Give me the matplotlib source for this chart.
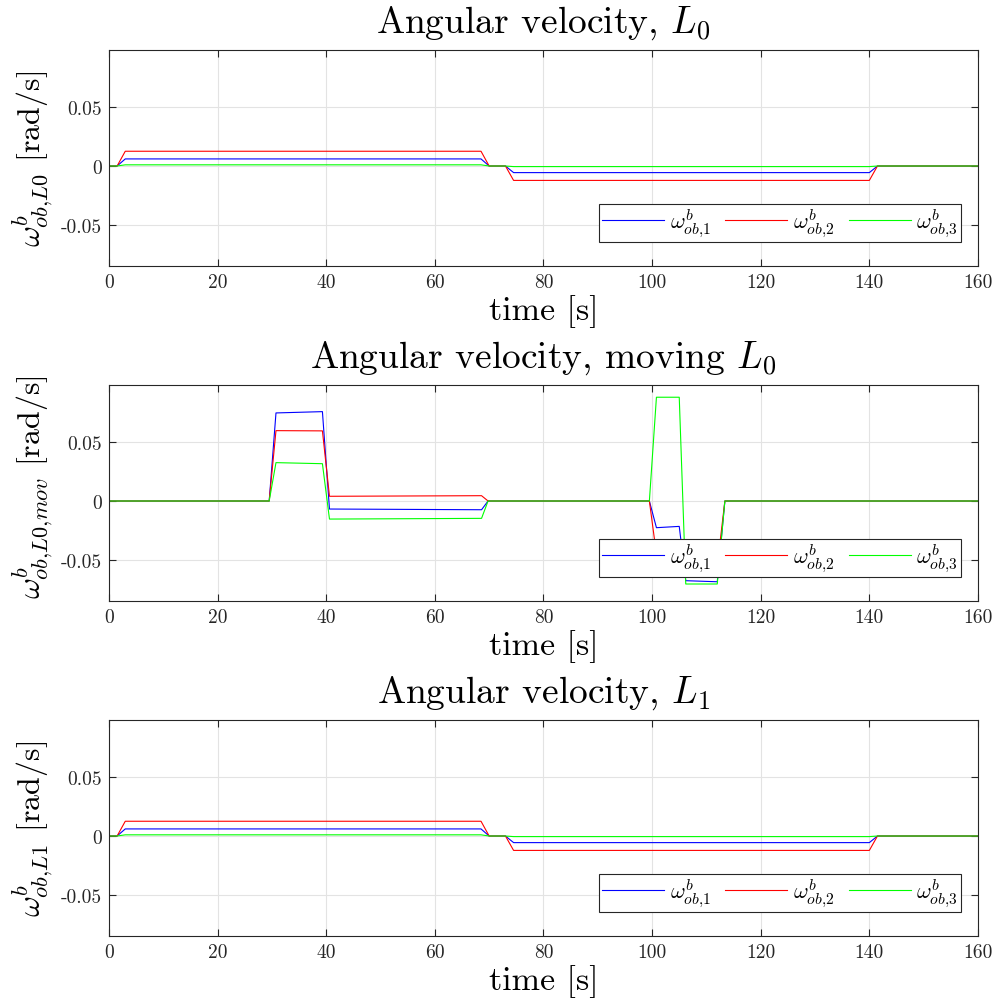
import matplotlib
matplotlib.use("Agg")
import matplotlib.pyplot as plt

plt.rcParams["font.family"] = ["cmr10", "DejaVu Serif"]
plt.rcParams["mathtext.fontset"] = "cm"
plt.rcParams["axes.unicode_minus"] = False

# Breakpoints of the piecewise-linear angular velocity profiles
t_L0 = [0, 1.5, 3.0, 68.5, 70.0, 73.0, 74.5, 140.0, 141.5, 160]
w1_L0 = [0, 0, 0.0060, 0.0060, 0, 0, -0.0056, -0.0056, 0, 0]
w2_L0 = [0, 0, 0.0125, 0.0125, 0, 0, -0.0122, -0.0122, 0, 0]
w3_L0 = [0, 0, 0.0010, 0.0010, 0, 0, -0.0005, -0.0005, 0, 0]

t_mov = [0, 29.5, 30.75, 39.3, 40.6, 68.6, 69.8, 99.5, 100.8, 105.0, 106.2, 112.0, 113.4, 160]
w1_mov = [0, 0, 0.0746, 0.0757, -0.0068, -0.0074, 0, 0, -0.0226, -0.0215, -0.0675, -0.0684, 0, 0]
w2_mov = [0, 0, 0.0596, 0.0594, 0.0040, 0.0045, 0, 0, -0.0450, -0.0450, -0.0550, -0.0550, 0, 0]
w3_mov = [0, 0, 0.0325, 0.0316, -0.0153, -0.0147, 0, 0, 0.0879, 0.0879, -0.0703, -0.0703, 0, 0]

t_L1 = [0, 1.5, 3.0, 68.5, 70.0, 73.0, 74.5, 140.0, 141.5, 160]
w1_L1 = [0, 0, 0.0060, 0.0060, 0, 0, -0.0056, -0.0056, 0, 0]
w2_L1 = [0, 0, 0.0125, 0.0125, 0, 0, -0.0122, -0.0122, 0, 0]
w3_L1 = [0, 0, 0.0010, 0.0010, 0, 0, -0.0005, -0.0005, 0, 0]

titles = [r"Angular velocity, $L_0$",
          r"Angular velocity, moving $L_0$",
          r"Angular velocity, $L_1$"]
ylabels = [r"$\omega^b_{ob{,}L0}$ [rad/s]",
           r"$\omega^b_{ob{,}L0{,}mov}$ [rad/s]",
           r"$\omega^b_{ob{,}L1}$ [rad/s]"]
ylabel_y = [0.5, 0.53, 0.5]
legend_labels = [r"$\omega^b_{ob{,}1}$", r"$\omega^b_{ob{,}2}$", r"$\omega^b_{ob{,}3}$"]
xticks = [0, 20, 40, 60, 80, 100, 120, 140, 160]
yticks = [-0.05, 0, 0.05]
ytick_labels = ["-0.05", "0", "0.05"]
colors = ["#0000ff", "#ff0000", "#00ff00"]

datasets = [(t_L0, [w1_L0, w2_L0, w3_L0]),
            (t_mov, [w1_mov, w2_mov, w3_mov]),
            (t_L1, [w1_L1, w2_L1, w3_L1])]

fig = plt.figure(figsize=(9.97, 10.03), dpi=100)
left, width, height = 0.1093, 0.8716, 0.2154
bottoms = [0.7338, 0.3998, 0.0658]

for (t, series), title, ylab, ly, bottom in zip(datasets, titles, ylabels,
                                                ylabel_y, bottoms):
    ax = fig.add_axes([left, bottom, width, height])
    lines = []
    for w, c in zip(series, colors):
        ln, = ax.plot(t, w, color=c, lw=0.8)
        lines.append(ln)
    ax.set_xlim(0, 160)
    ax.set_ylim(-0.0847, 0.0983)
    ax.set_xticks(xticks)
    ax.set_xticklabels([str(v) for v in xticks])
    ax.set_yticks(yticks)
    ax.set_yticklabels(ytick_labels)
    ax.grid(True, color="#e3e3e3", lw=0.8)
    ax.set_axisbelow(True)
    ax.tick_params(direction="in", top=True, right=True, length=5,
                   width=0.8, colors="#262626", labelsize=14, pad=5)
    for sp in ax.spines.values():
        sp.set_color("#262626")
        sp.set_linewidth(0.8)
    ax.set_title(title, fontsize=27, pad=13)
    ax.set_xlabel("time [s]", fontsize=24.5, labelpad=2)
    ax.set_ylabel(ylab, fontsize=23)
    ax.yaxis.set_label_coords(-0.062, ly)
    leg = ax.legend(lines, legend_labels, ncol=3, loc="lower right",
                    bbox_to_anchor=(0.9804, 0.111), borderaxespad=0,
                    fontsize=16, handlelength=2.8, handletextpad=0.25,
                    columnspacing=0.65, borderpad=0.14, fancybox=False,
                    framealpha=1, edgecolor="#262626")
    leg.get_frame().set_linewidth(0.8)

fig.savefig("out.png", dpi=100)
